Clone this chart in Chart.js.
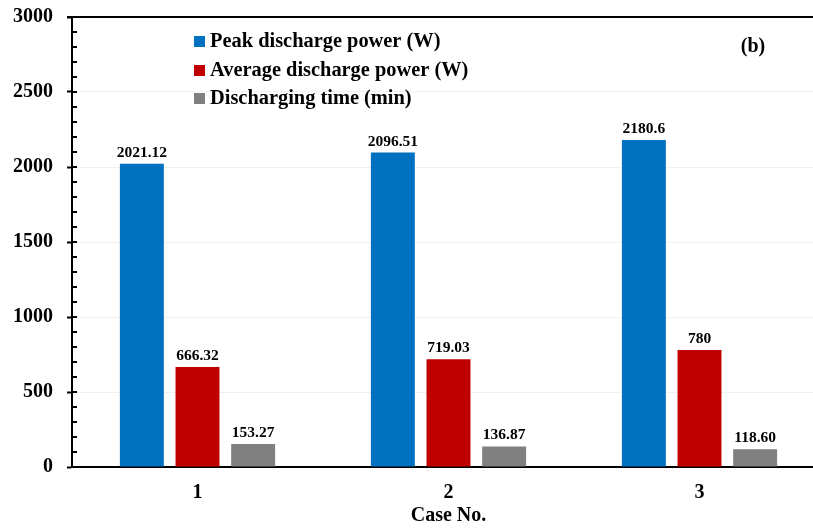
<!DOCTYPE html>
<html>
<head>
<meta charset="utf-8">
<script src="https://cdn.jsdelivr.net/npm/chart.js@4.4.1/dist/chart.umd.min.js"></script>
<style>
html,body{margin:0;padding:0;background:#fff;overflow:hidden;}
#wrap{width:813px;height:529px;overflow:hidden;position:relative;}
#box{width:825px;height:529px;position:absolute;left:0;top:0;}
</style>
</head>
<body>
<div id="wrap"><div id="box"><canvas id="c"></canvas></div></div>
<script>
const categories = ['1', '2', '3'];
const seriesNames = ['Peak discharge power (W)', 'Average discharge power (W)', 'Discharging time (min)'];
const peakPower = [2021.12, 2096.51, 2180.6];
const avgPower = [666.32, 719.03, 780];
const dischargeTime = [153.27, 136.87, 118.60];
const valueLabels = [
  ['2021.12', '2096.51', '2180.6'],
  ['666.32', '719.03', '780'],
  ['153.27', '136.87', '118.60']
];
const colors = ['#0070C0', '#C00000', '#808080'];
const yTicks = [0, 500, 1000, 1500, 2000, 2500, 3000];

const FONT = '"Liberation Serif", "Times New Roman", serif';

const extras = {
  id: 'extras',
  afterDatasetsDraw(chart) {
    const ctx = chart.ctx;
    const ca = chart.chartArea;
    const y = chart.scales.y;
    ctx.save();
    ctx.strokeStyle = '#000';
    ctx.lineWidth = 2;
    for (let v = 100; v < 3000; v += 100) {
      const py = Math.round(y.getPixelForValue(v));
      ctx.beginPath();
      ctx.moveTo(ca.left, py);
      ctx.lineTo(ca.left + 5, py);
      ctx.stroke();
    }
    ctx.beginPath();
    ctx.moveTo(ca.left - 5, ca.top);
    ctx.lineTo(ca.right, ca.top);
    ctx.stroke();
    ctx.fillStyle = '#000';
    ctx.font = 'bold 15.5px ' + FONT;
    ctx.textAlign = 'center';
    ctx.textBaseline = 'alphabetic';
    chart.data.datasets.forEach((ds, di) => {
      const meta = chart.getDatasetMeta(di);
      meta.data.forEach((bar, i) => {
        ctx.fillText(valueLabels[di][i], bar.x, bar.y - 7);
      });
    });
    const lx = 194, ly = [42, 71, 99];
    ctx.font = 'bold 20.4px ' + FONT;
    ctx.textAlign = 'left';
    ctx.textBaseline = 'middle';
    seriesNames.forEach((n, i) => {
      ctx.fillStyle = colors[i];
      ctx.fillRect(lx, ly[i] - 6, 11, 11);
      ctx.fillStyle = '#000';
      ctx.fillText(n, lx + 16, ly[i]);
    });
    ctx.font = 'bold 20px ' + FONT;
    ctx.textAlign = 'center';
    ctx.fillText('(b)', 753, 47);
    ctx.restore();
  }
};

new Chart(document.getElementById('c'), {
  type: 'bar',
  data: {
    labels: categories,
    datasets: [
      { label: seriesNames[0], data: peakPower, backgroundColor: colors[0] },
      { label: seriesNames[1], data: avgPower, backgroundColor: colors[1] },
      { label: seriesNames[2], data: dischargeTime, backgroundColor: colors[2] }
    ]
  },
  options: {
    responsive: true,
    maintainAspectRatio: false,
    animation: false,
    layout: { padding: { top: 17, right: 0, left: 0, bottom: 1 } },
    datasets: { bar: { categoryPercentage: 0.665, barPercentage: 0.79 } },
    plugins: { legend: { display: false }, tooltip: { enabled: false } },
    scales: {
      x: {
        grid: { display: false, drawTicks: false },
        border: { color: '#000', width: 2 },
        ticks: { color: '#000', font: { family: FONT, size: 20, weight: 'bold' }, padding: 14 },
        title: { display: true, text: 'Case No.', color: '#000', font: { family: FONT, size: 20, weight: 'bold' }, padding: { top: 0, bottom: 0 } },
        afterFit(axis) { axis.height = 61; axis.paddingLeft = 0; axis.paddingRight = 0; }
      },
      y: {
        min: 0, max: 3000,
        afterBuildTicks(axis) { axis.ticks = yTicks.map(v => ({ value: v })); },
        grid: { color: '#f0f0f0', lineWidth: 1, tickColor: '#000', tickLength: 5, tickWidth: 2, drawTicks: true },
        border: { color: '#000', width: 2 },
        ticks: { color: '#000', font: { family: FONT, size: 20, weight: 'bold' }, padding: 14, callback: (v) => String(v) },
        afterFit(axis) { axis.width = 72; axis.paddingTop = 0; axis.paddingBottom = 0; }
      }
    }
  },
  plugins: [extras]
});
</script>
</body>
</html>
